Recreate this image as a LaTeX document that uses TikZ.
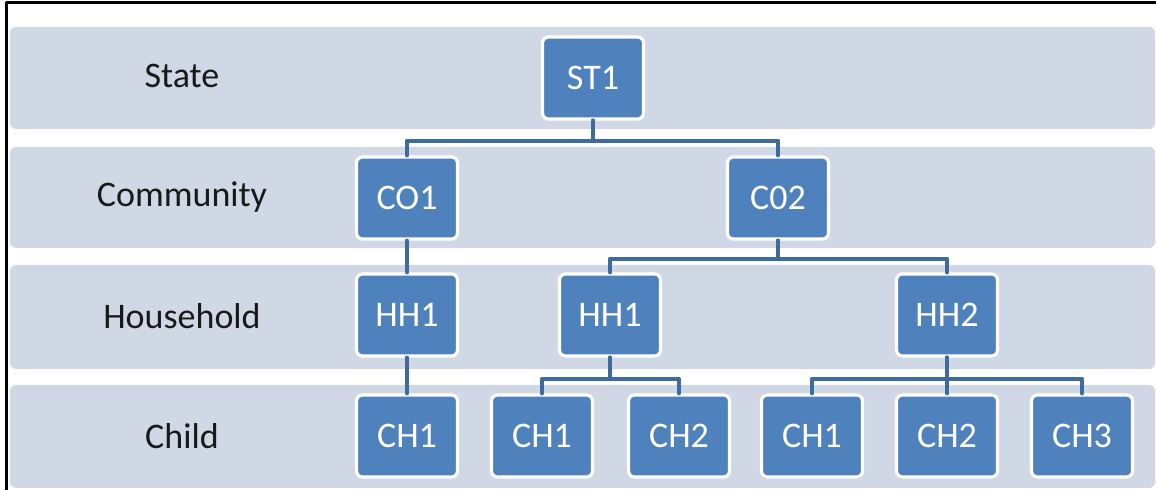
\documentclass[tikz,border=0pt]{standalone}
\usepackage{fontspec}
\setmainfont{Carlito}
\usepackage{tikz}
\usetikzlibrary{calc}

\definecolor{bandgray}{HTML}{D0D7E5}
\definecolor{boxblue}{HTML}{4F81BD}
\definecolor{linkblue}{HTML}{3E6A9C}

\tikzset{
  band/.style={fill=bandgray, rounded corners=3pt},
  unit/.style={fill=boxblue, draw=white, line width=1.6pt, rounded corners=3pt,
    minimum width=50.5pt, minimum height=41pt, inner sep=0pt,
    text=white, font=\fontsize{18}{20}\selectfont},
  level/.style={text=black!90, font=\fontsize{18}{20}\selectfont},
  link/.style={draw=linkblue, line width=2pt}
}

\begin{document}
\begin{tikzpicture}[x=0.5pt, y=-0.5pt, line join=round, line cap=round]
\useasboundingbox (0,0) rectangle (1156,490);

% bands
\fill[band] (10,27) rectangle (1155,129);
\fill[band] (10,147) rectangle (1155,248);
\fill[band] (10,265) rectangle (1155,369);
\fill[band] (10,385) rectangle (1155,488);

% frame
\draw[line width=1.5pt, line cap=butt] (6,490) -- (6,3) -- (1156,3);

% level names
\node[level] (lst) at (182,76) {State};
\node[level] (lco) at (182,197) {Community};
\node[level] (lhh) at (182,316) {Household};
\node[level] (lch) at (182,436) {Child};

% Nodes
\node[unit] (st1) at (593,78) {ST1};

\node[unit] (co1) at (407,198) {CO1};
\node[unit] (co2) at (778,198) {C02};

\node[unit] (hh1a) at (407,315) {HH1};
\node[unit] (hh1b) at (610,315) {HH1};
\node[unit] (hh2) at (947,315) {HH2};

\node[unit] (ch1a) at (407,436) {CH1};
\node[unit] (ch1b) at (542,436) {CH1};
\node[unit] (ch2b) at (679,436) {CH2};
\node[unit] (ch1c) at (812,436) {CH1};
\node[unit] (ch2c) at (947,436) {CH2};
\node[unit] (ch3c) at (1082,436) {CH3};

% Edges
\draw[link] (st1.south) -- ++(0,20) -| (co1.north);
\draw[link] (st1.south) -- ++(0,20) -| (co2.north);

\draw[link] (co1.south) -- (hh1a.north);
\draw[link] (co2.south) -- ++(0,18) -| (hh1b.north);
\draw[link] (co2.south) -- ++(0,18) -| (hh2.north);

\draw[link] (hh1a.south) -- (ch1a.north);
\draw[link] (hh1b.south) -- ++(0,21) -| (ch1b.north);
\draw[link] (hh1b.south) -- ++(0,21) -| (ch2b.north);
\draw[link] (hh2.south) -- ++(0,21) -| (ch1c.north);
\draw[link] (hh2.south) -- (ch2c.north);
\draw[link] (hh2.south) -- ++(0,21) -| (ch3c.north);

\end{tikzpicture}
\end{document}
